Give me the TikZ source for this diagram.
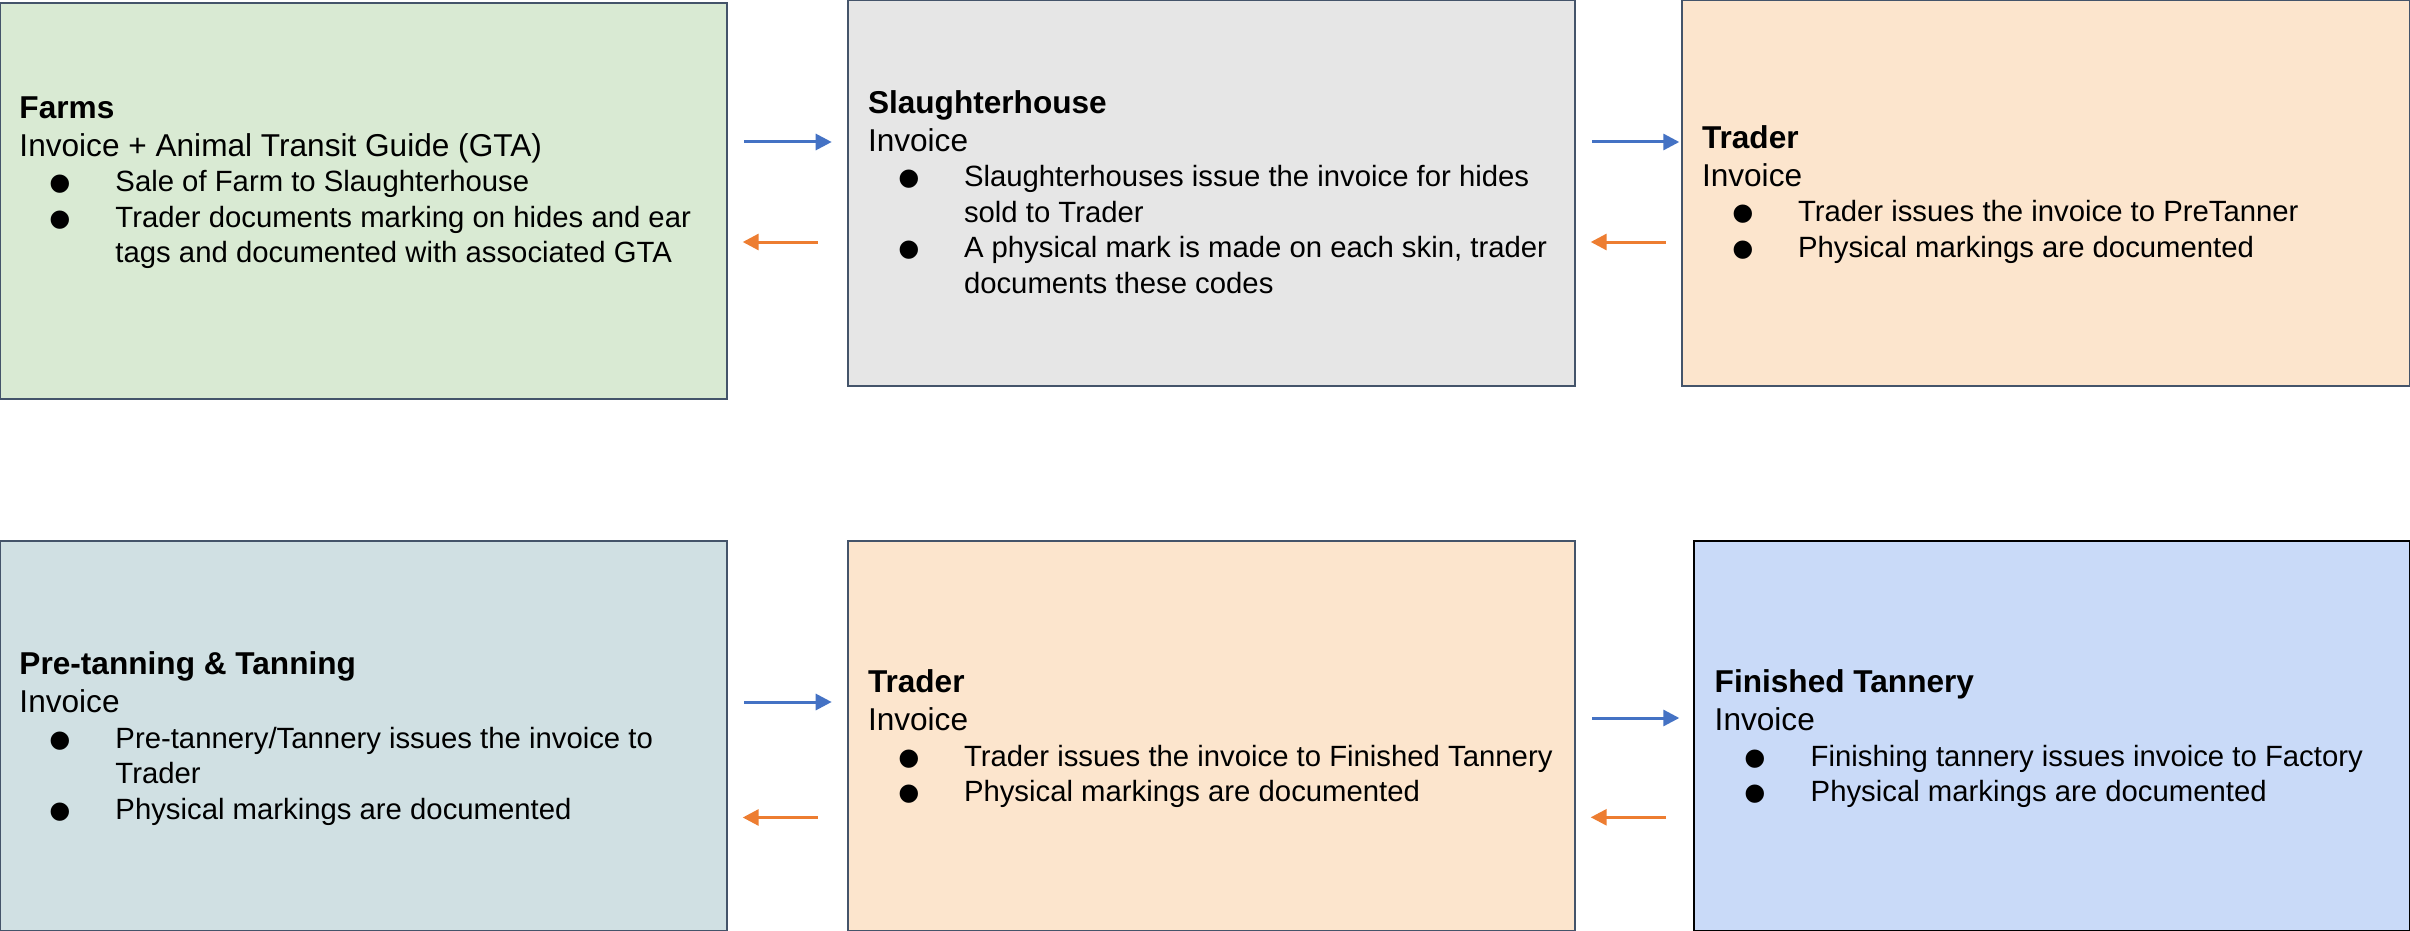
\documentclass[tikz,border=0pt]{standalone}
\usepackage{fontspec}
\setmainfont{Liberation Sans}
\usetikzlibrary{arrows.meta}
\definecolor{bordc}{HTML}{44546A}
\definecolor{fgreen}{HTML}{D9EAD3}
\definecolor{fgrey}{HTML}{E6E6E6}
\definecolor{forange}{HTML}{FCE5CD}
\definecolor{fcyan}{HTML}{D0E0E3}
\definecolor{fblue}{HTML}{C9DAF8}
\definecolor{arrblue}{HTML}{4472C4}
\definecolor{arrorange}{HTML}{ED7D31}
\newcommand\bulletmark{\makebox[96pt][l]{\hspace*{29.2pt}\raisebox{-15pt}[0pt][0pt]{\scalebox{2.3}{\textbullet}}}}
\newcommand\bitem[1]{\par\hangindent=96pt\hangafter=1\noindent\bulletmark#1\par}
\newcommand\bxtext[3]{\parbox[t]{700pt}{\raggedright\fontsize{31.6pt}{38pt}\selectfont\textbf{#1}\par #2\par\fontsize{29.3pt}{35.5pt}\selectfont #3}}
\tikzset{
  stagebox/.style={draw=bordc, line width=2pt, anchor=north west, inner sep=0pt, outer sep=0pt},
  txt/.style={anchor=base west, inner sep=0pt, outer sep=0pt},
  fwd/.style={draw=arrblue, line width=3pt, -{Triangle[length=16pt,width=16pt]}},
  bwd/.style={draw=arrorange, line width=3pt, -{Triangle[length=16pt,width=16pt]}}
}
\begin{document}
\begin{tikzpicture}[x=1pt,y=-1pt]
\useasboundingbox (0,0) rectangle (2410,931);
\fill[white] (0,0) rectangle (2410,931);
% boxes
\node[stagebox, fill=fgreen, minimum width=727pt, minimum height=396pt] (farms) at (0,3) {};
\node[stagebox, fill=fgrey, minimum width=727pt, minimum height=386pt] (sl) at (848,0) {};
\node[stagebox, fill=forange, minimum width=728pt, minimum height=386pt] (tr1) at (1682,0) {};
\node[stagebox, fill=fcyan, minimum width=727pt, minimum height=390pt] (pt) at (0,541) {};
\node[stagebox, fill=forange, minimum width=727pt, minimum height=390pt] (tr2) at (848,541) {};
\node[stagebox, draw=black, fill=fblue, minimum width=716pt, minimum height=390pt] (fin) at (1694,541) {};
% texts
\node[txt] (farmsT) at (19.5,118.3) {\bxtext{Farms}{Invoice + Animal Transit Guide (GTA)}{\bitem{Sale of Farm to Slaughterhouse}\bitem{Trader documents marking on hides and ear\newline tags and documented with associated GTA}}};
\node[txt] (slT) at (868,113.3) {\bxtext{Slaughterhouse}{Invoice}{\bitem{Slaughterhouses issue the invoice for hides\newline sold to Trader}\bitem{A physical mark is made on each skin, trader\newline documents these codes}}};
\node[txt] (tr1T) at (1702,148.3) {\bxtext{Trader}{Invoice}{\bitem{Trader issues the invoice to PreTanner}\bitem{Physical markings are documented}}};
\node[txt] (ptT) at (19.5,674.5) {\bxtext{Pre-tanning \& Tanning}{Invoice}{\bitem{Pre-tannery/Tannery issues the invoice to\newline Trader}\bitem{Physical markings are documented}}};
\node[txt] (tr2T) at (868,692.8) {\bxtext{Trader}{Invoice}{\bitem{Trader issues the invoice to Finished Tannery}\bitem{Physical markings are documented}}};
\node[txt] (finT) at (1714.7,692.8) {\bxtext{Finished Tannery}{Invoice}{\bitem{Finishing tannery issues invoice to Factory}\bitem{Physical markings are documented}}};
% arrows
\draw[fwd, shorten <=17pt, shorten >=16.3pt] (farms.east |- 0,142) -- (sl.west |- 0,142);
\draw[bwd, shorten <=30.3pt, shorten >=15.7pt] (sl.west |- 0,242) -- (farms.east |- 0,242);
\draw[fwd, shorten <=17pt, shorten >=2.7pt] (sl.east |- 0,142) -- (tr1.west |- 0,142);
\draw[bwd, shorten <=16.3pt, shorten >=15.7pt] (tr1.west |- 0,242) -- (sl.east |- 0,242);
\draw[fwd, shorten <=17pt, shorten >=16.3pt] (pt.east |- 0,702) -- (tr2.west |- 0,702);
\draw[bwd, shorten <=30.3pt, shorten >=15.7pt] (tr2.west |- 0,817.5) -- (pt.east |- 0,817.5);
\draw[fwd, shorten <=17pt, shorten >=14.7pt] (tr2.east |- 0,718) -- (fin.west |- 0,718);
\draw[bwd, shorten <=28pt, shorten >=15.7pt] (fin.west |- 0,817.3) -- (tr2.east |- 0,817.3);
\end{tikzpicture}
\end{document}
